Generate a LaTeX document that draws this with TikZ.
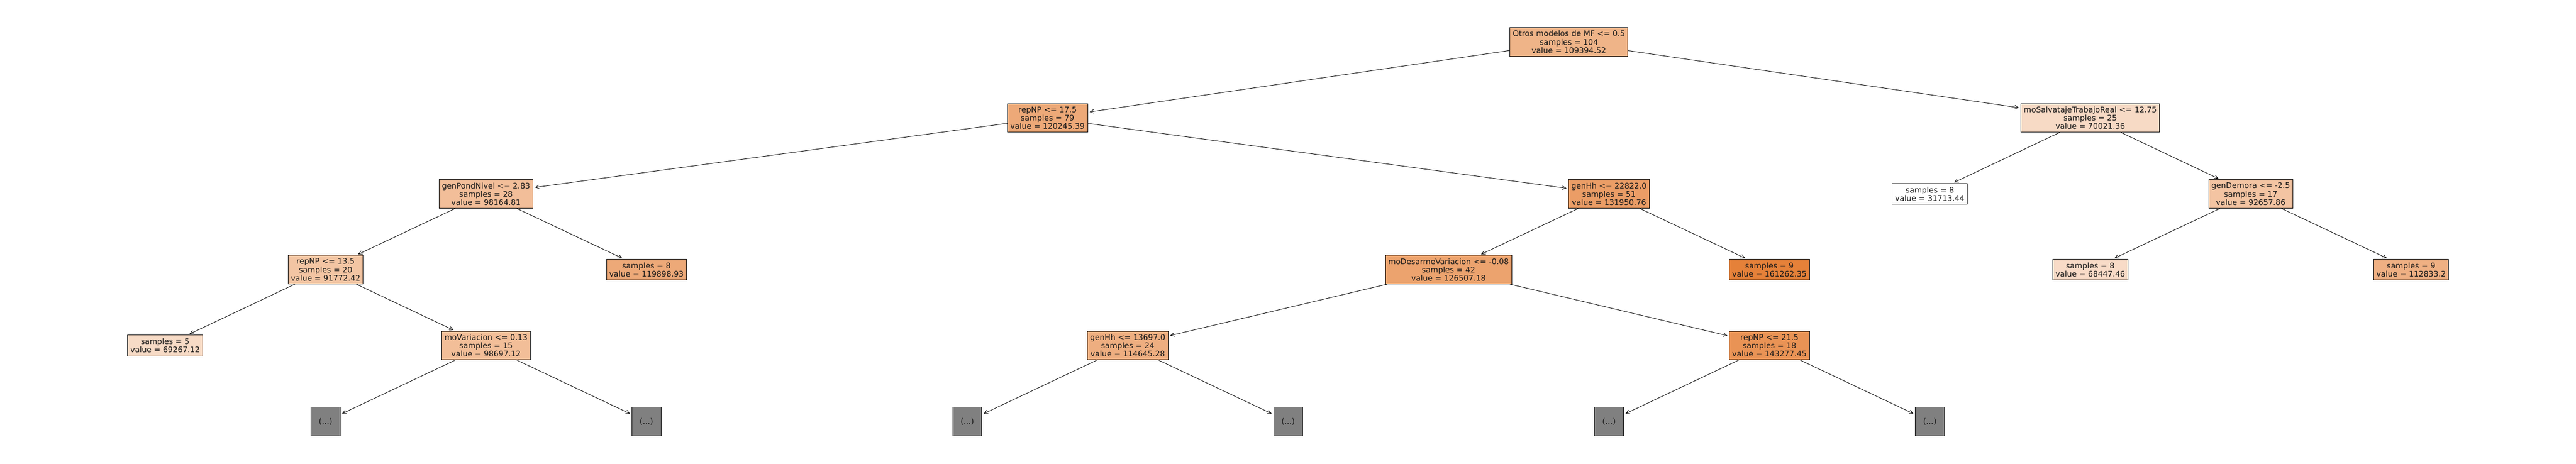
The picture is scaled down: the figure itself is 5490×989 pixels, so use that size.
\documentclass[tikz,border=0pt]{standalone}
\usepackage{fontspec}
\setmainfont{DejaVu Sans}
\usetikzlibrary{arrows.meta}
\definecolor{cRoot}{RGB}{239,180,136}
\definecolor{cA}{RGB}{237,169,120}
\definecolor{cB}{RGB}{247,218,197}
\definecolor{cC}{RGB}{242,190,153}
\definecolor{cD}{RGB}{235,157,102}
\definecolor{cE}{RGB}{255,255,255}
\definecolor{cF}{RGB}{243,196,162}
\definecolor{cG}{RGB}{243,197,163}
\definecolor{cH}{RGB}{237,169,120}
\definecolor{cI}{RGB}{236,163,110}
\definecolor{cJ}{RGB}{229,129,57}
\definecolor{cK}{RGB}{248,219,199}
\definecolor{cL}{RGB}{239,176,131}
\definecolor{cM}{RGB}{247,219,198}
\definecolor{cN}{RGB}{242,190,152}
\definecolor{cO}{RGB}{238,174,128}
\definecolor{cP}{RGB}{233,147,85}
\definecolor{grayfill}{RGB}{128,128,128}
\begin{document}
\begin{tikzpicture}[x=1pt,y=-1pt,
  tbox/.style={draw=black, line width=1pt, align=center, inner xsep=6pt, inner ysep=2pt,
    font=\fontsize{16.5pt}{17.7pt}\selectfont, text=black!90},
  three/.style={tbox, minimum height=61pt},
  two/.style={tbox, minimum height=44.5pt},
  more/.style={tbox, fill=grayfill, minimum width=62pt, minimum height=61pt, inner xsep=2pt},
  arr/.style={-{Straight Barb[length=8pt,width=8pt]}, line width=1pt, shorten >=4pt}]
\fill[white] (0,0) rectangle (5490,989);
\useasboundingbox (0,0) rectangle (5490,989);
% level 0
\node[three, fill=cRoot] (root) at (3343.6,89.5) {Otros modelos de MF <= 0.5\\samples = 104\\value = 109394.52};
% level 1
\node[three, fill=cA] (n1) at (2232.5,251.5) {repNP <= 17.5\\samples = 79\\value = 120245.39};
\node[three, fill=cB] (n2) at (4454.8,251.5) {moSalvatajeTrabajoReal <= 12.75\\samples = 25\\value = 70021.36};
% level 2
\node[three, fill=cC] (n3) at (1035.8,413.5) {genPondNivel <= 2.83\\samples = 28\\value = 98164.81};
\node[three, fill=cD] (n4) at (3429.1,413.5) {genHh <= 22822.0\\samples = 51\\value = 131950.76};
\node[two, fill=cE] (n5) at (4112.9,413.5) {samples = 8\\value = 31713.44};
\node[three, fill=cF] (n6) at (4796.7,413.5) {genDemora <= -2.5\\samples = 17\\value = 92657.86};
% level 3
\node[three, fill=cG] (n7) at (693.9,574.9) {repNP <= 13.5\\samples = 20\\value = 91772.42};
\node[two, fill=cH] (n8) at (1377.7,574.9) {samples = 8\\value = 119898.93};
\node[three, fill=cI] (n9) at (3087.2,574.9) {moDesarmeVariacion <= -0.08\\samples = 42\\value = 126507.18};
\node[two, fill=cJ] (n10) at (3771.0,574.9) {samples = 9\\value = 161262.35};
\node[two, fill=cK] (n11) at (4454.8,574.9) {samples = 8\\value = 68447.46};
\node[two, fill=cL] (n12) at (5138.6,574.9) {samples = 9\\value = 112833.2};
% level 4
\node[two, fill=cM] (n13) at (352.0,736.7) {samples = 5\\value = 69267.12};
\node[three, fill=cN] (n14) at (1035.8,736.7) {moVariacion <= 0.13\\samples = 15\\value = 98697.12};
\node[three, fill=cO] (n15) at (2403.4,736.7) {genHh <= 13697.0\\samples = 24\\value = 114645.28};
\node[three, fill=cP] (n16) at (3771.0,736.7) {repNP <= 21.5\\samples = 18\\value = 143277.45};
% level 5 (truncated)
\node[more] (g1) at (693.9,898.5) {(...)};
\node[more] (g2) at (1377.7,898.5) {(...)};
\node[more] (g3) at (2061.5,898.5) {(...)};
\node[more] (g4) at (2745.3,898.5) {(...)};
\node[more] (g5) at (3429.1,898.5) {(...)};
\node[more] (g6) at (4112.9,898.5) {(...)};
% edges
\draw[arr] (root) -- (n1);
\draw[arr] (root) -- (n2);
\draw[arr] (n1) -- (n3);
\draw[arr] (n1) -- (n4);
\draw[arr] (n2) -- (n5);
\draw[arr] (n2) -- (n6);
\draw[arr] (n3) -- (n7);
\draw[arr] (n3) -- (n8);
\draw[arr] (n4) -- (n9);
\draw[arr] (n4) -- (n10);
\draw[arr] (n6) -- (n11);
\draw[arr] (n6) -- (n12);
\draw[arr] (n7) -- (n13);
\draw[arr] (n7) -- (n14);
\draw[arr] (n9) -- (n15);
\draw[arr] (n9) -- (n16);
\draw[arr] (n14) -- (g1);
\draw[arr] (n14) -- (g2);
\draw[arr] (n15) -- (g3);
\draw[arr] (n15) -- (g4);
\draw[arr] (n16) -- (g5);
\draw[arr] (n16) -- (g6);
\end{tikzpicture}
\end{document}
